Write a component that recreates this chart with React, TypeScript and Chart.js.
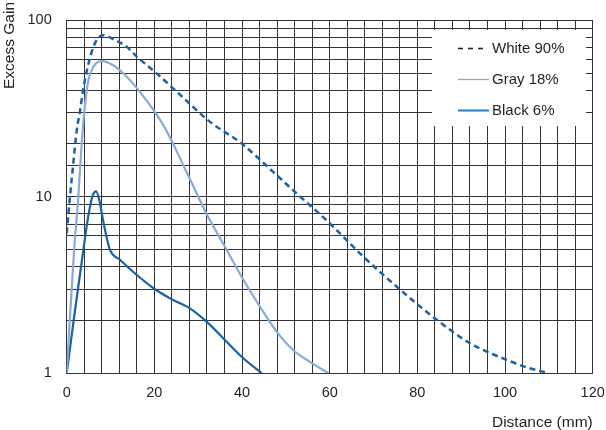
import React, { useEffect, useRef } from "react";
import { Chart, registerables } from "chart.js";

Chart.register(...registerables);

const seriesLabels = ["White 90%", "Gray 18%", "Black 6%"];

const whiteDist = [0, 0.75, 1.5, 2.3, 3.0, 3.8, 4.9, 6.1, 7.2, 8.4, 10.6, 13.7, 16, 20.5, 25.5, 32.7, 39.9, 47.1, 52.5, 58.9, 67.7, 75.7, 84.2, 92, 100.4, 105, 110];
const whiteGain = [6.2, 10, 15.4, 23.8, 30.2, 41, 55.6, 70.5, 79.3, 82, 78, 70.5, 62, 49.9, 38.5, 26.5, 20, 13.8, 10.4, 7.5, 4.57, 3.03, 2.03, 1.48, 1.19, 1.08, 1.0];

const grayDist = [0, 0.75, 1.7, 2.65, 3.42, 4.17, 4.9, 6.07, 8, 10.6, 13.7, 16.7, 20.1, 22, 24, 26, 29.3, 31.9, 36.1, 39.9, 44.1, 47.9, 51.7, 55.5, 59.7];
const grayGain = [1, 2.09, 5.0, 10, 20, 33, 45, 54.3, 58.5, 55.4, 47.7, 39.2, 30.2, 25.5, 20.6, 16.2, 10.9, 8.0, 5.2, 3.52, 2.38, 1.72, 1.35, 1.16, 1.0];

const blackDist = [0, 1.7, 3.8, 4.9, 5.85, 6.7, 7.45, 8, 8.75, 9.8, 12.2, 16, 19.8, 24, 28.1, 31.9, 35.7, 39.9, 44.5];
const blackGain = [1, 2.09, 5, 7.7, 10, 10.7, 9.55, 8.06, 6.47, 5.05, 4.38, 3.6, 3.03, 2.62, 2.33, 1.96, 1.58, 1.24, 1.0];

const xTickLabels = [0, 20, 40, 60, 80, 100, 120];
const yTickLabels = [1, 10, 100];

const xTitle = "Distance (mm)";
const yTitle = "Excess Gain";

const FONT = "'Liberation Sans', Arial, Helvetica, sans-serif";
const TEXT = "#231f20";
const GRID = "#333333";
const DARK_BLUE = "#1a62a0";
const LIGHT_BLUE = "#8aabd6";

const toPoints = (xs: number[], ys: number[]) => xs.map((x, i) => ({ x, y: ys[i] }));

const overlayPlugin = {
  id: "overlay",
  afterDatasetsDraw(chart: any) {
    const ctx = chart.ctx;
    ctx.save();
    ctx.fillStyle = "#ffffff";
    ctx.fillRect(432, 30, 154, 96);
    const rows = [48.5, 79.5, 110.5];
    chart.data.datasets.forEach((ds: any, i: number) => {
      const y = rows[i];
      ctx.beginPath();
      ctx.strokeStyle = i === 1 ? "#7aa7dc" : i === 2 ? "#2a7fc4" : "#222222";
      ctx.lineWidth = i === 0 ? 1.6 : i === 1 ? 1.3 : 2;
      ctx.setLineDash(i === 0 ? [5, 5] : []);
      ctx.moveTo(458, y);
      ctx.lineTo(i === 0 ? 486 : 489, y);
      ctx.stroke();
      ctx.setLineDash([]);
      ctx.fillStyle = TEXT;
      ctx.font = `15px ${FONT}`;
      ctx.textAlign = "left";
      ctx.textBaseline = "middle";
      ctx.fillText(ds.label, 492, y);
    });
    ctx.translate(9.5, 2);
    ctx.rotate(-Math.PI / 2);
    ctx.textAlign = "right";
    ctx.textBaseline = "middle";
    ctx.font = `15.5px ${FONT}`;
    ctx.fillStyle = TEXT;
    ctx.fillText(yTitle, 0, 0);
    ctx.restore();
  },
};

export default function App() {
  const ref = useRef<HTMLCanvasElement | null>(null);
  useEffect(() => {
    if (!ref.current) return;
    const chart = new Chart(ref.current, {
      type: "line",
      data: {
        datasets: [
          {
            label: seriesLabels[0],
            data: toPoints(whiteDist, whiteGain),
            borderColor: DARK_BLUE,
            borderWidth: 2.5,
            borderDash: [6, 4],
            pointRadius: 0,
            cubicInterpolationMode: "monotone",
            fill: false,
          },
          {
            label: seriesLabels[1],
            data: toPoints(grayDist, grayGain),
            borderColor: LIGHT_BLUE,
            borderWidth: 2.2,
            pointRadius: 0,
            cubicInterpolationMode: "monotone",
            fill: false,
          },
          {
            label: seriesLabels[2],
            data: toPoints(blackDist, blackGain),
            borderColor: DARK_BLUE,
            borderWidth: 2.2,
            pointRadius: 0,
            cubicInterpolationMode: "monotone",
            fill: false,
          },
        ],
      },
      options: {
        responsive: false,
        animation: false,
        layout: { padding: { top: 20, right: 13.3, left: 0, bottom: 0 } },
        plugins: { legend: { display: false }, tooltip: { enabled: false } },
        scales: {
          x: {
            type: "linear",
            min: 0,
            max: 120,
            afterFit: (s: any) => {
              s.height = 56.7;
              s.paddingLeft = 0;
              s.paddingRight = 0;
            },
            grid: { color: GRID, lineWidth: 1, drawTicks: false },
            border: { color: GRID, width: 1 },
            ticks: {
              stepSize: 4,
              autoSkip: false,
              maxRotation: 0,
              padding: 11,
              color: TEXT,
              font: { family: FONT, size: 14.5 },
              callback: (v: any) => (xTickLabels.includes(Number(v)) ? String(v) : ""),
            },
            title: {
              display: true,
              text: xTitle,
              align: "end",
              color: TEXT,
              font: { family: FONT, size: 15.5, lineHeight: 1.0 },
              padding: 0,
            },
          },
          y: {
            type: "logarithmic",
            min: 1,
            max: 100,
            afterFit: (s: any) => {
              s.width = 66.7;
              s.paddingTop = 0;
              s.paddingBottom = 0;
            },
            grid: { color: GRID, lineWidth: 1, drawTicks: false },
            border: { color: GRID, width: 1 },
            ticks: {
              autoSkip: false,
              padding: 15,
              color: TEXT,
              font: { family: FONT, size: 14.5 },
              callback: (v: any) => (yTickLabels.includes(Number(v)) ? String(v) : ""),
            },
          },
        },
      },
      plugins: [overlayPlugin],
    } as any);
    return () => chart.destroy();
  }, []);
  return (
    <div style={{ position: "absolute", left: 0, top: 0, width: 606, height: 430 }}>
      <canvas ref={ref} width={606} height={430} style={{ display: "block" }} />
    </div>
  );
}
